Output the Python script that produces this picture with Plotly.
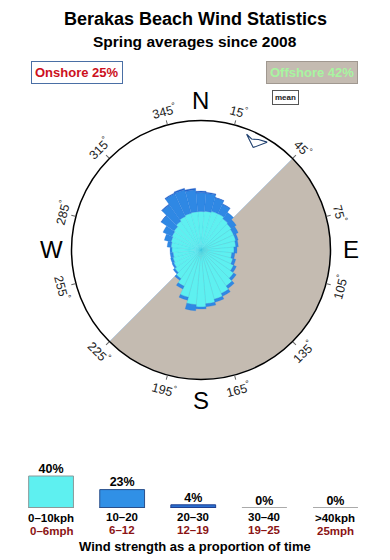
import plotly.graph_objects as go
import math

# ---------------- data ----------------
directions = [0, 10, 20, 30, 40, 50, 60, 70, 80, 90, 100, 110, 120, 130, 140, 150, 160, 170,
              180, 190, 200, 210, 220, 230, 240, 250, 260, 270, 280, 290, 300, 310, 320, 330, 340, 350]
# radial frequency (chart units) per direction, stacked
speed_0_10 = [38.5, 39, 40, 40, 38, 37, 36, 36, 35, 33, 31, 33, 36, 40, 44, 48, 51, 54,
              57, 55, 49, 40, 35, 32, 30, 29, 28, 29, 30, 31, 32, 33, 35, 37, 38, 38.5]
speed_10_20 = [19, 18, 14, 10.5, 8, 6, 5, 2.5, 2.5, 3, 3, 3, 3, 3, 3, 3, 3, 3,
               2, 6, 3, 3, 2, 2, 2, 2.5, 3, 2, 4, 7, 10, 15.5, 20, 25, 24.5, 22]
speed_20_30 = [1.5, 1, 0.5, 0.5, 0, 0, 0, 0, 0, 0, 0, 0, 0, 0, 0, 0, 0, 0,
               0, 0, 0, 0, 0, 0, 0, 0, 0, 0, 0, 0, 0, 0.5, 1, 1, 1.5, 1.5]
radial_max = 129.5

offshore_from, offshore_to = 45, 225
onshore_pct, offshore_pct = 25, 42
mean_direction = 27

angle_ticks = [15, 45, 75, 105, 135, 165, 195, 225, 255, 285, 315, 345]
cardinals = ["N", "E", "S", "W"]
cardinal_angles = [0, 90, 180, 270]

legend_kph = ["0–10kph", "10–20", "20–30", "30–40", ">40kph"]
legend_mph = ["0–6mph", "6–12", "12–19", "19–25", "25mph"]
legend_pct = [40, 23, 4, 0, 0]
legend_colors = ["#5ef0f0", "#3090e6", "#2a6fd0", "#aaaaaa", "#aaaaaa"]
legend_edges = ["#8a9a9a", "#2a4f8a", "#1f3f8f", "#aaaaaa", "#aaaaaa"]

# ---------------- geometry helpers ----------------
W, H = 390, 560
cx_px, cy_px, R_px = 201, 250, 129.5
def px(x):
    return x / W
def py(y):
    return 1 - y / H

FONT = "Liberation Sans, Arial, sans-serif"
fig = go.Figure()

# offshore sector
fig.add_trace(go.Barpolar(
    r=[radial_max], theta=[(offshore_from + offshore_to) / 2], width=[offshore_to - offshore_from],
    marker=dict(color="#c4bbb1", line=dict(color="#b0c8e0", width=0.8)),
    hoverinfo="skip", showlegend=False))

# wind rose
for vals, col, lc in [(speed_0_10, "#5ef0f0", "rgba(70,205,225,0.7)"),
                      (speed_10_20, "#2f88e4", "rgba(40,120,220,0.6)"),
                      (speed_20_30, "#2466cc", "rgba(30,90,200,0.6)")]:
    fig.add_trace(go.Barpolar(
        r=vals, theta=directions, width=[10] * len(directions),
        marker=dict(color=col, line=dict(color=lc, width=0.4)),
        hoverinfo="skip", showlegend=False))

# mean direction arrow (computed around the mean direction)
m = mean_direction
arrow_theta = [m, m - 5.5, m - 2.5, m + 0.5, m + 4.5, m]
arrow_r = [115, 124.5, 122, 124.5, 126.5, 115]
fig.add_trace(go.Scatterpolar(
    r=arrow_r, theta=arrow_theta, mode="lines",
    line=dict(color="#1e3f6e", width=1.1), fill="toself", fillcolor="white",
    hoverinfo="skip", showlegend=False))

dom_x = [px(cx_px - R_px), px(cx_px + R_px)]
dom_y = [py(cy_px + R_px), py(cy_px - R_px)]

fig.update_layout(
    width=W, height=H, margin=dict(l=0, r=0, t=0, b=0),
    paper_bgcolor="white", plot_bgcolor="white",
    font=dict(family=FONT, color="black"),
    polar=dict(
        domain=dict(x=dom_x, y=dom_y),
        bgcolor="white",
        barmode="stack",
        radialaxis=dict(visible=False, range=[0, radial_max]),
        angularaxis=dict(rotation=90, direction="clockwise", tickmode="array",
                         tickvals=angle_ticks, showticklabels=False, ticks="outside",
                         ticklen=4, tickcolor="#666", showgrid=False,
                         linecolor="black", linewidth=1.5),
    ),
)

def ann(x, y, text, size, color="black", **kw):
    d = dict(x=x, y=y, xref="paper", yref="paper", showarrow=False, text=text,
             xanchor="center", yanchor="middle",
             font=dict(size=size, family=FONT, color=color))
    d.update(kw)
    return d

annotations = []
# degree labels, rotated tangentially
for a in angle_ticks:
    rr = 144
    x = cx_px + rr * math.sin(math.radians(a))
    y = cy_px - rr * math.cos(math.radians(a))
    ang = a if (a < 90 or a > 270) else a - 180
    if ang > 180:
        ang -= 360
    annotations.append(ann(px(x), py(y), f"{a}<sup>°</sup>", 12.5, "#222", textangle=ang))
for lab, a in zip(cardinals, cardinal_angles):
    rr = 150
    x = cx_px + rr * math.sin(math.radians(a))
    y = cy_px - rr * math.cos(math.radians(a))
    annotations.append(ann(px(x), py(y), lab, 24))

annotations += [
    ann(0.5, py(19), "<b>Berakas Beach Wind Statistics</b>", 18),
    ann(0.5, py(42), "<b>Spring averages since 2008</b>", 15.5),
    ann(px(77), py(73), f"<b>Onshore {onshore_pct}%</b>", 13, "#cc1020",
        bordercolor="#4a6fa5", borderwidth=1, bgcolor="white", borderpad=3),
    ann(px(311.5), py(73), f"<b>Offshore {offshore_pct}%</b>", 13, "#a8f5a0",
        bordercolor="#a09890", borderwidth=1, bgcolor="#c4bbb1", borderpad=3),
    ann(px(285), py(97), "<b>mean</b>", 8, "#222",
        bordercolor="#555", borderwidth=1, bgcolor="white", borderpad=2),
    ann(0.5, py(546), "<b>Wind strength as a proportion of time</b>", 13),
]

# ---------------- legend bar chart ----------------
xs = list(range(len(legend_pct)))
fig.add_trace(go.Bar(
    x=xs, y=legend_pct, width=0.63, xaxis="x2", yaxis="y2",
    marker=dict(color=legend_colors, line=dict(color=legend_edges, width=1)),
    hoverinfo="skip", showlegend=False))
# baselines under each bar
for i in xs:
    fig.add_trace(go.Scatter(
        x=[i - 0.315, i + 0.315], y=[0, 0], mode="lines", xaxis="x2", yaxis="y2",
        line=dict(color=legend_edges[i], width=2), hoverinfo="skip", showlegend=False))
fig.add_trace(go.Scatter(
    x=xs, y=legend_pct, mode="text", text=[f"<b>{v}%</b>" for v in legend_pct],
    textposition="top center", textfont=dict(size=12.5, family=FONT, color="black"),
    xaxis="x2", yaxis="y2", hoverinfo="skip", showlegend=False, cliponaxis=False))

# two-line category labels under the bars
for i, (k, m_) in enumerate(zip(legend_kph, legend_mph)):
    yk = 518 if i in (0, 4) else 517
    annotations.append(dict(x=i, y=py(yk), xref="x2", yref="paper", showarrow=False,
                            text=f"<b>{k}</b>", xanchor="center", yanchor="middle",
                            font=dict(size=11.5, family=FONT, color="black")))
    annotations.append(dict(x=i, y=py(yk + 12.5), xref="x2", yref="paper", showarrow=False,
                            text=f"<b>{m_}</b>", xanchor="center", yanchor="middle",
                            font=dict(size=11.5, family=FONT, color="#8b1414")))

fig.update_layout(
    xaxis2=dict(domain=[px(15.5), px(371)], anchor="y2", range=[-0.5, 4.5],
                showticklabels=False, showgrid=False, automargin=False,
                zeroline=False, showline=False, ticks=""),
    yaxis2=dict(domain=[py(508), py(448)], anchor="x2", range=[0, 75], visible=False,
                showgrid=False, zeroline=False, automargin=False),
    xaxis=dict(visible=False), yaxis=dict(visible=False),
    annotations=annotations,
)

fig.write_html("out.html")
